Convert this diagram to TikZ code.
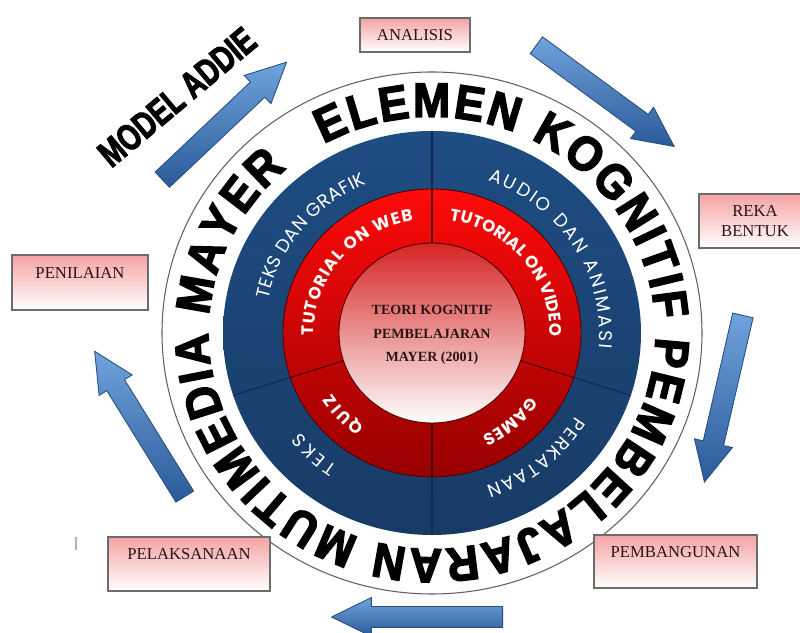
\documentclass[tikz,border=0pt]{standalone}
\usepackage{fontspec}
\usepackage{graphicx}
\setmainfont{Liberation Serif}
\newfontfamily\ringfont{Liberation Sans}[BoldFeatures={FakeBold=3, FakeStretch=0.92}]
\newfontfamily\gothfont{Poppins}
\usetikzlibrary{shapes.arrows, decorations.text}

\definecolor{navytop}{HTML}{1E4D82}
\definecolor{navymid}{HTML}{3A7CC2}
\definecolor{navybot}{HTML}{183B66}
\definecolor{navyline}{HTML}{132C4E}
\definecolor{redtop}{HTML}{FF0A0A}
\definecolor{redmid}{HTML}{DC0000}
\definecolor{redbot}{HTML}{960000}
\definecolor{maroonline}{HTML}{4A0505}
\definecolor{coretop}{HTML}{D62424}
\definecolor{coremid}{HTML}{EFA2A2}
\definecolor{pinkbox}{HTML}{F5A3A3}
\definecolor{arrowlight}{HTML}{6FA3DC}
\definecolor{arrowdark}{HTML}{2B5A98}
\definecolor{arrowline}{HTML}{2A4F80}
\definecolor{labeltext}{HTML}{2A1515}

\begin{document}
\begin{tikzpicture}[x=0.2mm, y=0.2mm,
    stage/.style={draw=gray!85!black, line width=0.6pt, top color=pinkbox, bottom color=white,
        inner sep=0pt, align=center, text=labeltext, font=\fontsize{9.5}{11.3}\selectfont},
    flow/.style={single arrow, draw=arrowline, line width=0.5pt, top color=arrowlight, bottom color=arrowdark,
        minimum height=34.2mm, minimum width=7.6mm, single arrow head extend=1.8mm,
        single arrow tip angle=52, inner xsep=0pt, inner ysep=2mm, anchor=tail},
    ringlabel/.style={decorate, decoration={text along path, text color=white, text align=fit to path, text={#1}}}
]
\useasboundingbox (0,0) rectangle (800,633);
\clip (0,0) rectangle (800,633);

% wheel
\begin{scope}[shift={(432,300)}]
  \path[draw=gray!75!black, fill=white, line width=0.6pt] (0,0) ellipse[x radius=270, y radius=261];
  \path[top color=navytop, middle color=navymid, bottom color=navybot] (0,0) ellipse[x radius=209, y radius=202];
  \path[draw=maroonline, line width=0.5pt, top color=redtop, middle color=redmid, bottom color=redbot] (0,0) ellipse[x radius=149, y radius=144];
  \foreach \a in {90,198,270,342} {
    \draw[navyline, line width=0.7pt] (\a:149 and 144) -- (\a:209 and 202);
    \draw[maroonline, line width=0.6pt] (\a:93 and 90) -- (\a:149 and 144);
  }
  \path[draw=maroonline, line width=0.5pt, top color=coretop, middle color=coremid, bottom color=white] (0,0) ellipse[x radius=93, y radius=90];

  % outer band
  \path[decorate, decoration={text along path, text align=fit to path,
      text={|\ringfont\bfseries\fontsize{27.5}{30}\selectfont|ELEMEN KOGNITIF PEMBELAJARAN MUTIMEDIA MAYER}}]
    (119:223.5 and 216) arc[start angle=119, end angle=-229.5, x radius=223.5, y radius=216];

  % blue band
  \path[ringlabel={|\gothfont\fontsize{10.5}{12}\selectfont|TEKS DAN GRAFIK}]
    (168:167.5 and 162) arc[start angle=168, end angle=113, x radius=167.5, y radius=162];
  \path[ringlabel={|\gothfont\fontsize{10.5}{12}\selectfont|AUDIO DAN ANIMASI}]
    (70.5:167.5 and 162) arc[start angle=70.5, end angle=-5.5, x radius=167.5, y radius=162];
  \path[ringlabel={|\gothfont\fontsize{10.5}{12}\selectfont|PERKATAAN}]
    (-31:167.5 and 162) arc[start angle=-31, end angle=-71, x radius=167.5, y radius=162];
  \path[ringlabel={|\gothfont\fontsize{10.5}{12}\selectfont|TEKS}]
    (235.5:167.5 and 162) arc[start angle=235.5, end angle=218, x radius=167.5, y radius=162];

  % red band
  \path[ringlabel={|\gothfont\bfseries\fontsize{9.5}{11}\selectfont|TUTORIAL ON WEB}]
    (181.5:118 and 114) arc[start angle=181.5, end angle=99, x radius=118, y radius=114];
  \path[ringlabel={|\gothfont\bfseries\fontsize{9.5}{11}\selectfont|TUTORIAL ON VIDEO}]
    (81.5:118 and 114) arc[start angle=81.5, end angle=-1.6, x radius=118, y radius=114];
  \path[ringlabel={|\gothfont\bfseries\fontsize{9.5}{11}\selectfont|QUIZ}]
    (235:118 and 114) arc[start angle=235, end angle=212, x radius=118, y radius=114];
  \path[ringlabel={|\gothfont\bfseries\fontsize{9.5}{11}\selectfont|GAMES}]
    (-34:118 and 114) arc[start angle=-34, end angle=-65, x radius=118, y radius=114];
\end{scope}

\node[font=\bfseries\fontsize{8}{13.5}\selectfont, text=labeltext, align=center] (teori) at (432,298)
  {TEORI KOGNITIF\\PEMBELAJARAN\\MAYER (2001)};

\node[rotate=40, font=\ringfont\bfseries\fontsize{20}{20}\selectfont] (addie) at (177,536)
  {\scalebox{0.85}[1.05]{MODEL ADDIE}};

% stages
\node[stage, minimum width=22mm, minimum height=6.8mm] (analisis) at (415,598) {ANALISIS};
\node[stage, minimum width=22.4mm, minimum height=10.8mm] (reka) at (755,412) {REKA\\BENTUK};
\node[stage, minimum width=32.6mm, minimum height=10.6mm] (pembangunan) at (675.5,71.5) {PEMBANGUNAN\\\mbox{}};
\node[stage, minimum width=32.4mm, minimum height=10.8mm] (pelaksanaan) at (189,69) {PELAKSANAAN\\\mbox{}};
\node[stage, minimum width=27.2mm, minimum height=11mm] (penilaian) at (80,350.5) {PENILAIAN\\\mbox{}};

% cycle arrows
\node[flow, rotate=43.4] (toAnalisis) at (162,453) {};
\node[flow, rotate=-36.3] (toReka) at (536,588) {};
\node[flow, rotate=-103] (toBangun) at (743,318) {};
\node[flow, rotate=180] (toLaksana) at (503,16) {};
\node[flow, rotate=121.8] (toNilai) at (185,136) {};

\draw[gray!60, line width=0.8pt] (76,83) -- (76,96);
\end{tikzpicture}
\end{document}
